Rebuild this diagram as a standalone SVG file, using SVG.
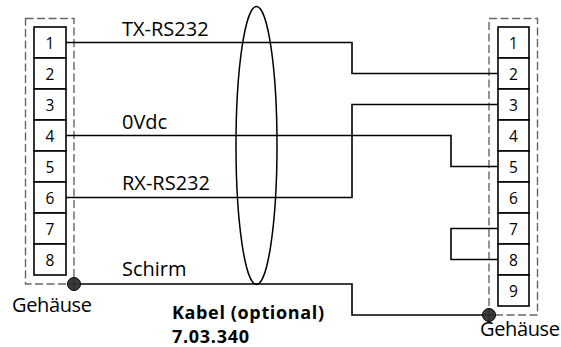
<svg xmlns="http://www.w3.org/2000/svg" width="561" height="347" viewBox="0 0 561 347">
<style>
.cell{fill:#fff;stroke:#000;stroke-width:1.6}
.num{font-family:"Open Sans","Noto Sans",sans-serif;font-size:15.5px;fill:#000;text-anchor:middle}
.lbl{font-family:"Open Sans","Noto Sans",sans-serif;font-size:20px;fill:#000}
.bold{font-weight:bold;font-size:18px}
.housing{fill:none;stroke:#666;stroke-width:1.4;stroke-dasharray:8 3.5}
.wire{fill:none;stroke:#000;stroke-width:1.6}
.dot{fill:#3c3c3c;stroke:#000;stroke-width:1}
</style>
<rect width="561" height="347" fill="#fff"/>
<g id="left-connector">
<rect class="housing" x="25.5" y="18.5" width="48.5" height="265.5"/>
<rect class="cell" x="34" y="27" width="32" height="31"/><text class="num" x="50" y="48.5">1</text>
<rect class="cell" x="34" y="58" width="32" height="31"/><text class="num" x="50" y="79.5">2</text>
<rect class="cell" x="34" y="89" width="32" height="31"/><text class="num" x="50" y="110.5">3</text>
<rect class="cell" x="34" y="120" width="32" height="31"/><text class="num" x="50" y="141.5">4</text>
<rect class="cell" x="34" y="151" width="32" height="31"/><text class="num" x="50" y="172.5">5</text>
<rect class="cell" x="34" y="182" width="32" height="31"/><text class="num" x="50" y="203.5">6</text>
<rect class="cell" x="34" y="213" width="32" height="31"/><text class="num" x="50" y="234.5">7</text>
<rect class="cell" x="34" y="244" width="32" height="31"/><text class="num" x="50" y="265.5">8</text>
<text class="lbl" x="12" y="312" textLength="80">Gehäuse</text>
</g>
<g id="right-connector">
<rect class="housing" x="489" y="18.5" width="48.5" height="296.5"/>
<rect class="cell" x="498" y="27" width="31" height="31"/><text class="num" x="513.5" y="48.5">1</text>
<rect class="cell" x="498" y="58" width="31" height="31"/><text class="num" x="513.5" y="79.5">2</text>
<rect class="cell" x="498" y="89" width="31" height="31"/><text class="num" x="513.5" y="110.5">3</text>
<rect class="cell" x="498" y="120" width="31" height="31"/><text class="num" x="513.5" y="141.5">4</text>
<rect class="cell" x="498" y="151" width="31" height="31"/><text class="num" x="513.5" y="172.5">5</text>
<rect class="cell" x="498" y="182" width="31" height="31"/><text class="num" x="513.5" y="203.5">6</text>
<rect class="cell" x="498" y="213" width="31" height="31"/><text class="num" x="513.5" y="234.5">7</text>
<rect class="cell" x="498" y="244" width="31" height="31"/><text class="num" x="513.5" y="265.5">8</text>
<rect class="cell" x="498" y="275" width="31" height="31"/><text class="num" x="513.5" y="296.5">9</text>
<text class="lbl" x="480" y="336" textLength="80">Gehäuse</text>
</g>
<g id="cable">
<ellipse cx="256.5" cy="145.5" rx="20.5" ry="139" fill="none" stroke="#000" stroke-width="1.5"/>
<text class="lbl bold" x="172" y="319" textLength="152">Kabel (optional)</text>
<text class="lbl bold" x="172" y="343" textLength="77">7.03.340</text>
</g>
<g id="connectors">
<polyline class="wire" points="66,42.5 352,42.5 352,73.5 498,73.5"/>
<polyline class="wire" points="66,135.5 451,135.5 451,166.5 498,166.5"/>
<polyline class="wire" points="66,197.5 352,197.5 352,104.5 498,104.5"/>
<polyline class="wire" points="74,284 352,284 352,315 489,315"/>
<polyline class="wire" points="498,228.5 451,228.5 451,259.5 498,259.5"/>
<text class="lbl" x="122" y="36">TX-RS232</text>
<text class="lbl" x="122" y="129">0Vdc</text>
<text class="lbl" x="122" y="190">RX-RS232</text>
<text class="lbl" x="122" y="276">Schirm</text>
</g>
<g id="ground-left">
<circle class="dot" cx="74" cy="284" r="6.5"/>
<path d="M67.5 284H80.5M74 277.5V290.5" stroke="#222" stroke-width="0.8"/>
</g>
<g id="ground-right">
<circle class="dot" cx="489" cy="315" r="6.5"/>
<path d="M482.5 315H495.5M489 308.5V321.5" stroke="#222" stroke-width="0.8"/>
</g>
</svg>
